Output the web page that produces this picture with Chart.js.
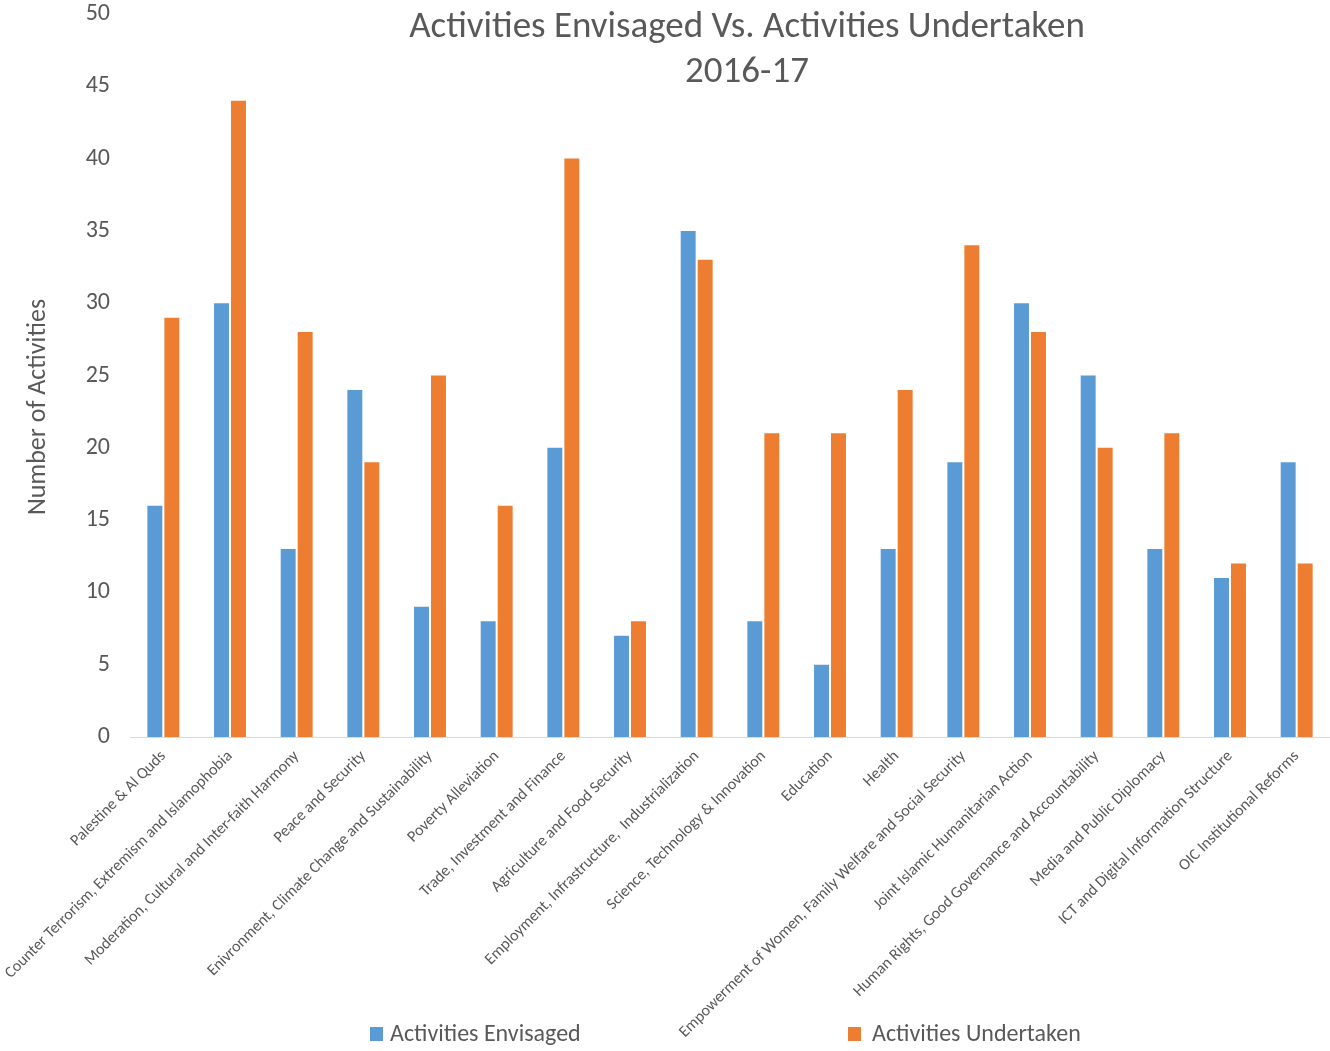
<!DOCTYPE html>
<html>
<head>
<meta charset="utf-8">
<script src="https://cdn.jsdelivr.net/npm/chart.js@4/dist/chart.umd.min.js"></script>
<style>
  html, body { margin: 0; padding: 0; background: #fff; }
  #wrap { width: 1330px; height: 1051px; position: relative; }
</style>
</head>
<body>
<div id="wrap"><canvas id="chart"></canvas></div>
<script>
const categories = [
  'Palestine & Al Quds',
  'Counter Terrorism, Extremism and Islamophobia',
  'Moderation, Cultural and Inter-faith Harmony',
  'Peace and Security',
  'Enivronment, Climate Change and Sustainability',
  'Poverty Alleviation',
  'Trade, Investment and Finance',
  'Agriculture and Food Security',
  'Employment, Infrastructure,  Industrialization',
  'Science, Technology & Innovation',
  'Education',
  'Health',
  'Empowerment of Women, Family Welfare and Social Security',
  'Joint Islamic Humanitarian Action',
  'Human Rights, Good Governance and Accountability',
  'Media and Public Diplomacy',
  'ICT and Digital Information Structure',
  'OIC Institutional Reforms'
];
const envisaged = [16, 30, 13, 24, 9, 8, 20, 7, 35, 8, 5, 13, 19, 30, 25, 13, 11, 19];
const undertaken = [29, 44, 28, 19, 25, 16, 40, 8, 33, 21, 21, 24, 34, 28, 20, 21, 12, 12];
const yTicks = [0, 5, 10, 15, 20, 25, 30, 35, 40, 45, 50];

const FONT = 'Carlito, Lato, sans-serif';
const GREY = '#595959';
const BLUE = '#5B9BD5';
const ORANGE = '#ED7D31';

// titre, titre d'axe et légende dessinés à la main (placement façon Excel)
const decorations = {
  id: 'decorations',
  afterDraw(chart) {
    const ctx = chart.ctx;
    ctx.save();
    ctx.fillStyle = GREY;
    ctx.textAlign = 'center';
    ctx.textBaseline = 'middle';
    ctx.font = '37px ' + FONT;
    ctx.fillText('Activities Envisaged Vs. Activities Undertaken', 747, 28);
    ctx.fillText('2016-17', 747, 73);

    ctx.save();
    ctx.translate(38, 407);
    ctx.rotate(-Math.PI / 2);
    ctx.font = '26px ' + FONT;
    ctx.fillText('Number of Activities', 0, 0);
    ctx.restore();

    ctx.textAlign = 'left';
    ctx.font = '24px ' + FONT;
    ctx.fillStyle = BLUE;
    ctx.fillRect(370, 1027, 13, 14);
    ctx.fillStyle = GREY;
    ctx.fillText('Activities Envisaged', 390, 1035);
    ctx.fillStyle = ORANGE;
    ctx.fillRect(848, 1027, 13, 14);
    ctx.fillStyle = GREY;
    ctx.fillText('Activities Undertaken', 872, 1035);
    ctx.restore();
  }
};

new Chart(document.getElementById('chart'), {
  type: 'bar',
  data: {
    labels: categories,
    datasets: [
      { label: 'Activities Envisaged', data: envisaged, backgroundColor: BLUE,
        categoryPercentage: 0.51, barPercentage: 0.88 },
      { label: 'Activities Undertaken', data: undertaken, backgroundColor: ORANGE,
        categoryPercentage: 0.51, barPercentage: 0.88 }
    ]
  },
  options: {
    responsive: true,
    maintainAspectRatio: false,
    animation: false,
    layout: { padding: { top: 14, right: 0, bottom: 0, left: 0 } },
    plugins: {
      legend: { display: false },
      title: { display: false },
      tooltip: { enabled: false }
    },
    scales: {
      x: {
        grid: { display: false, drawTicks: false },
        border: { display: true, color: '#d9d9d9', width: 1 },
        ticks: {
          color: GREY,
          font: { family: FONT, size: 16 },
          minRotation: 45,
          maxRotation: 45,
          autoSkip: false,
          padding: 10
        },
        afterFit(s) { s.height = 1051 - 737 - 14 + 14; }
      },
      y: {
        min: 0,
        max: 50,
        grid: { display: false, drawTicks: false },
        border: { display: false },
        afterBuildTicks(s) { s.ticks = yTicks.map(v => ({ value: v })); },
        ticks: {
          color: GREY,
          font: { family: FONT, size: 24 },
          padding: 20
        },
        afterFit(s) {
          s.width = 130;
          s.paddingTop = 0;
          s.paddingBottom = 0;
        }
      }
    }
  },
  plugins: [decorations]
});
</script>
</body>
</html>
